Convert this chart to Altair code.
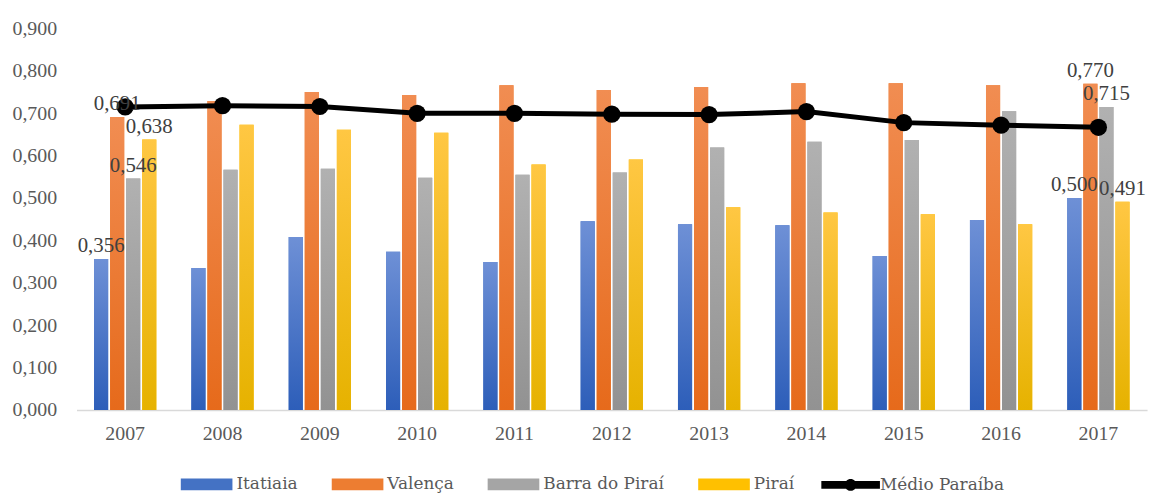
import altair as alt
import pandas as pd

years = ["2007", "2008", "2009", "2010", "2011", "2012", "2013", "2014", "2015", "2016", "2017"]
series_names = ["Itatiaia", "Valença", "Barra do Piraí", "Piraí"]
itatiaia = [0.356, 0.335, 0.408, 0.373, 0.349, 0.445, 0.438, 0.436, 0.363, 0.448, 0.500]
valenca = [0.691, 0.729, 0.750, 0.743, 0.766, 0.755, 0.762, 0.771, 0.771, 0.766, 0.770]
barra = [0.546, 0.567, 0.569, 0.548, 0.555, 0.560, 0.619, 0.633, 0.637, 0.705, 0.715]
pirai = [0.638, 0.673, 0.661, 0.654, 0.579, 0.591, 0.478, 0.466, 0.462, 0.438, 0.491]
medio = [0.715, 0.718, 0.716, 0.700, 0.700, 0.698, 0.697, 0.704, 0.678, 0.672, 0.667]
labelled_years = ["2007", "2017"]

flat_colors = ["#4472C4", "#ED7D31", "#A5A5A5", "#FFC000"]
gradients = [
    ("#6E90D6", "#2D5EB9"),
    ("#F18D52", "#E66A1B"),
    ("#B1B1B1", "#929292"),
    ("#FFC743", "#E6B200"),
]

rows = []
for name, vals in zip(series_names, [itatiaia, valenca, barra, pirai]):
    for y, v in zip(years, vals):
        rows.append({"year": y, "series": name, "value": v})
bars_df = pd.DataFrame(rows)
line_df = pd.DataFrame({"year": years, "value": medio, "series": "Médio Paraíba"})

FONT = "Liberation Serif"
LEGEND_FONT = "DejaVu Serif"
TXT = "#595959"

x_enc = alt.X("year:N", title=None, sort=years,
              scale=alt.Scale(paddingInner=0.36, paddingOuter=0.18),
              axis=alt.Axis(labelFont=FONT, labelFontSize=20, labelColor=TXT,
                            domainColor="#D9D9D9", domainWidth=1.5, ticks=False,
                            labelPadding=14, labelAngle=0))
xoff_enc = alt.XOffset("series:N", sort=series_names,
                       scale=alt.Scale(domain=series_names, paddingInner=0.12))
y_scale = alt.Scale(domain=[0, 0.9], nice=False)
y_enc = alt.Y("value:Q", title=None, scale=y_scale,
              axis=alt.Axis(values=[0, 0.1, 0.2, 0.3, 0.4, 0.5, 0.6, 0.7, 0.8, 0.9],
                            labelExpr="replace(format(datum.value, '.3f'), '.', ',')",
                            labelFont=FONT, labelFontSize=20, labelColor=TXT,
                            domain=False, ticks=False, grid=False, labelPadding=20))

base = alt.Chart(bars_df)

flat = base.mark_bar().encode(
    x=x_enc, xOffset=xoff_enc, y=y_enc,
    color=alt.Color("series:N", sort=series_names,
                    scale=alt.Scale(domain=series_names, range=flat_colors),
                    legend=alt.Legend(title=None, orient="none", direction="horizontal",
                                      legendX=105, legendY=433,
                                      symbolType="M-1,-0.23H1V0.23H-1Z", symbolSize=2704,
                                      symbolStrokeWidth=0,
                                      labelFont=LEGEND_FONT, labelFontSize=17, labelColor=TXT,
                                      columnPadding=34, labelOffset=4)),
)

grad_layers = []
for name, (top, bottom) in zip(series_names, gradients):
    grad_layers.append(
        base.transform_filter(alt.datum.series == name).mark_bar(
            color=alt.Gradient(gradient="linear",
                               stops=[alt.GradientStop(color=top, offset=0),
                                      alt.GradientStop(color=bottom, offset=1)],
                               x1=0, x2=0, y1=0, y2=1)
        ).encode(x=x_enc, xOffset=xoff_enc, y=y_enc)
    )

labels = base.transform_filter(
    alt.FieldOneOfPredicate(field="year", oneOf=labelled_years)
).transform_calculate(
    lab="replace(format(datum.value, '.3f'), '.', ',')"
).mark_text(font=FONT, fontSize=21, color="#404040", baseline="bottom", dy=-3).encode(
    x=x_enc, xOffset=xoff_enc, y=y_enc, text="lab:N"
)

line = alt.Chart(line_df).mark_line(color="black", strokeWidth=5).encode(
    x=x_enc, y=y_enc,
    stroke=alt.Stroke("series:N", scale=alt.Scale(domain=["Médio Paraíba"], range=["black"]),
                      legend=alt.Legend(title=None, orient="none", legendX=750, legendY=430,
                                        symbolType="M-1,-0.135H1V0.135H-1Z M-0.2,0A0.2,0.2 0 1,1 0.2,0A0.2,0.2 0 1,1 -0.2,0Z",
                                        symbolSize=3481, symbolFillColor="black",
                                        symbolStrokeWidth=0,
                                        labelFont=LEGEND_FONT, labelFontSize=17, labelColor=TXT,
                                        labelOffset=0)),
)
points = alt.Chart(line_df).mark_point(filled=True, color="black", size=300, opacity=1).encode(
    x=x_enc, y=y_enc
)

chart = alt.layer(flat, *grad_layers, line, points, labels).properties(
    width=1078, height=384,
    autosize=alt.AutoSizeParams(type="none"),
    padding={"left": 69, "top": 19, "right": 10, "bottom": 84},
).configure(
    view=alt.ViewConfig(stroke=None),
)

chart.save("out.html", embed_options={"renderer": "svg", "actions": False})
